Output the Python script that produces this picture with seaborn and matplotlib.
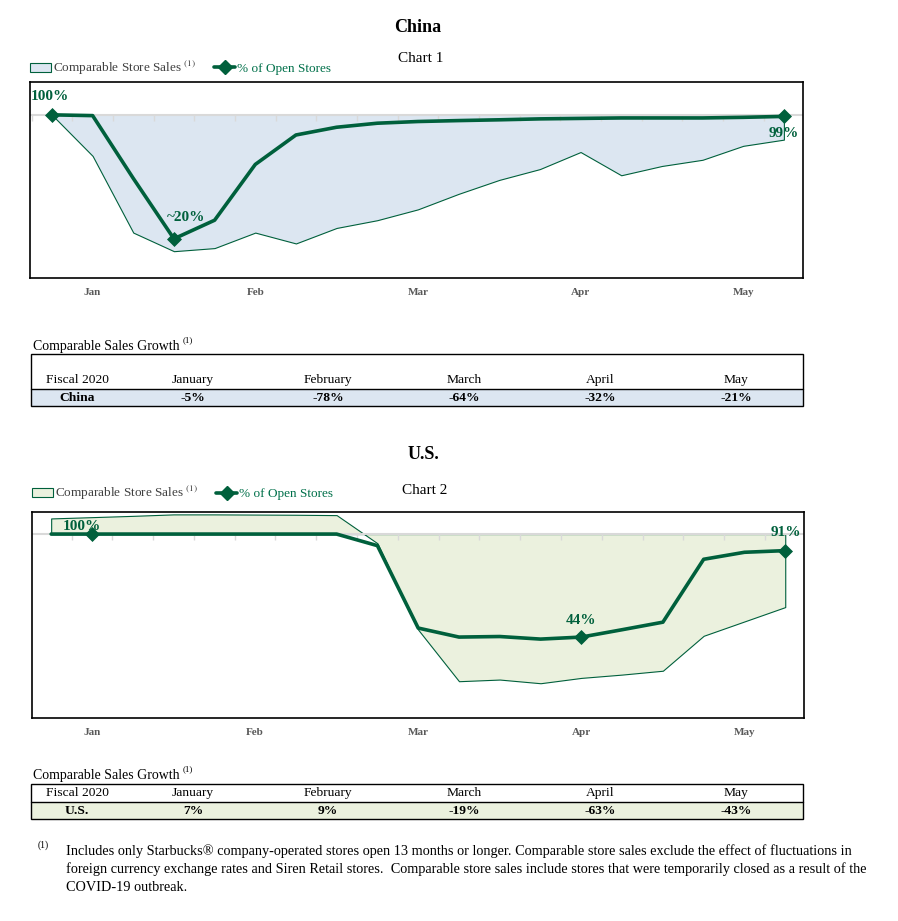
import numpy as np
import pandas as pd
import matplotlib
matplotlib.use('Agg')
import matplotlib.pyplot as plt
from matplotlib.lines import Line2D
from matplotlib.patches import Rectangle
import seaborn as sns

# weekly points, Jan .. May (fiscal 2020)
weeks = list(range(19))
month_ticks = [1, 5, 9, 13, 17]
month_labels = ['Jan', 'Feb', 'Mar', 'Apr', 'May']

china_open = [100, 99.5, 59, 20, 32, 68, 87, 92, 94.6, 95.7, 96.3, 96.8, 97.4, 97.7, 98, 98, 98, 98.4, 99]
china_comp = [0, -26.5, -76, -88, -86, -76, -83, -73, -68, -61, -51, -42, -35, -24, -39, -33, -29, -20, -16]
china_marks = [0, 3, 18]
china_mark_text = ['100%', '~20%', '99%']

us_open = [100, 100, 100, 100, 100, 100, 100, 100, 93.7, 48.9, 44.0, 44.3, 42.9, 44, 48, 52.1, 86.3, 90.1, 91]
us_comp = [8.5, 9.2, 9.9, 10.7, 10.7, 10.6, 10.5, 10.3, -5, -52, -80, -79.1, -81.1, -78.2, -76.4, -74.3, -55.3, -47.5, -39.7]
us_marks = [1, 13, 18]
us_mark_text = ['100%', '44%', '91%']

table_months = ['January', 'February', 'March', 'April', 'May']
china_growth = ['-5%', '-78%', '-64%', '-32%', '-21%']
us_growth = ['7%', '9%', '-19%', '-63%', '-43%']

GREEN = '#00603C'
LEG_GREEN = '#00704A'
BLUE_FILL = '#DCE6F1'
OLIVE_FILL = '#EBF1DE'
GRAY = '#595959'

sns.set_theme(style='white')
plt.rcParams['font.family'] = ['Liberation Serif', 'DejaVu Serif']
plt.rcParams['mathtext.fontset'] = 'stix'
plt.rcParams['text.color'] = 'black'

W, H = 898, 921
fig = plt.figure(figsize=(W / 100, H / 100), dpi=100)


def px_rect(l, t, r, b):
    return [l / W, 1 - b / H, (r - l) / W, (b - t) / H]


# overlay in pixel coordinates for titles, tables and footnote
ov = fig.add_axes([0, 0, 1, 1])
ov.set_xlim(0, W)
ov.set_ylim(H, 0)
ov.axis('off')


def draw_chart(rect, xlim, open_lim, open_vals, comp_vals, fill, marks, mark_text, offsets, leg_y):
    ax = fig.add_axes(px_rect(*rect))
    ax.set_xlim(*xlim)
    ax.set_ylim(open_lim[0] - 100, open_lim[1] - 100)
    area = ax.fill_between(weeks, 0, comp_vals, facecolor=fill, edgecolor=GREEN, linewidth=0.8, zorder=1)
    ax.axhline(0, color='#D9D9D9', lw=1.5, zorder=2)
    ax.plot(np.arange(-0.5, 19, 1), np.zeros(20), ls='none', marker=3, ms=4, mew=1, color='#D9D9D9', zorder=2)
    ax.set_yticks([])
    ax.set_xticks(month_ticks)
    ax.set_xticklabels(month_labels, fontsize=8, fontweight='bold', color=GRAY)
    ax.tick_params(axis='x', length=0, pad=7)
    for s in ax.spines.values():
        s.set_visible(True)
        s.set_color('black')
        s.set_linewidth(1.2)

    ax2 = ax.twinx()
    ax2.set_ylim(*open_lim)
    df = pd.DataFrame({'week': weeks, 'open': open_vals})
    sns.lineplot(data=df, x='week', y='open', ax=ax2, color=GREEN, lw=2.6, zorder=4)
    sns.scatterplot(data=df.iloc[marks], x='week', y='open', ax=ax2, color=GREEN, marker='D', s=50,
                    edgecolor=GREEN, zorder=5)
    for i, t, off in zip(marks, mark_text, offsets):
        ax2.annotate(t, (weeks[i], open_vals[i]), xytext=off, textcoords='offset pixels',
                     ha='center', va='center', fontsize=11, fontweight='bold', color=GREEN)
    ax2.set_yticks([])
    ax2.set_ylabel('')
    ax2.set_xlabel('')
    ax.set_xlabel('')
    for s in ax2.spines.values():
        s.set_visible(False)

    handles = [area, Line2D([], [], color=GREEN, lw=2.6, marker='D', ms=7)]
    leg = ax2.legend(handles, ['Comparable Store Sales $^{(1)}$', '% of Open Stores'],
                     loc='lower left', bbox_to_anchor=(-0.004, leg_y), ncol=2, frameon=False,
                     fontsize=9.5, handlelength=1.6, handleheight=0.7, handletextpad=0.15,
                     columnspacing=1.4, borderpad=0.1, borderaxespad=0.1)
    leg.get_texts()[0].set_color('#404040')
    leg.get_texts()[1].set_color(LEG_GREEN)
    return ax


draw_chart((30, 82, 803, 278), (-0.54, 18.47), (-5.3, 121.2), china_open, china_comp, BLUE_FILL,
           china_marks, china_mark_text, [(-2, 18), (12, 21), (0, -17)], 1.012)
draw_chart((32, 512, 804, 718), (-0.47, 18.46), (0, 112), us_open, us_comp, OLIVE_FILL,
           us_marks, us_mark_text, [(-10, 8), (0, 17), (1, 18)], 1.035)

# titles
ov.text(418, 27, 'China', ha='center', va='center', fontsize=13, fontweight='bold')
ov.text(421, 58, 'Chart 1', ha='center', va='center', fontsize=11)
ov.text(423, 454, 'U.S.', ha='center', va='center', fontsize=13, fontweight='bold')
ov.text(425, 490, 'Chart 2', ha='center', va='center', fontsize=11)

# tables
col_x = [77, 193, 328, 464, 600, 736]


def draw_table(top, sep, bottom, title_y, head_y, row_y, fill, name, values):
    ov.text(33, title_y, 'Comparable Sales Growth', ha='left', va='center', fontsize=10)
    ov.text(183, title_y - 6, '(1)', ha='left', va='center', fontsize=6.5)
    ov.add_patch(Rectangle((31, sep), 772, bottom - sep, facecolor=fill, edgecolor='none'))
    ov.add_patch(Rectangle((31, top), 772, bottom - top, facecolor='none', edgecolor='black', lw=1))
    ov.plot([31, 803], [sep, sep], color='black', lw=1)
    heads = ['Fiscal 2020'] + table_months
    cells = [name] + values
    for x, h, c in zip(col_x, heads, cells):
        ov.text(x, head_y, h, ha='center', va='center', fontsize=9.7)
        ov.text(x, row_y, c, ha='center', va='center', fontsize=9.7, fontweight='bold')


draw_table(354, 388.5, 406, 346.5, 380, 398, BLUE_FILL, 'China', china_growth)
draw_table(784, 802, 819, 775, 793, 811, OLIVE_FILL, 'U.S.', us_growth)

# footnote
ov.text(38, 845, '(1)', ha='left', va='center', fontsize=7)
foot = ['Includes only Starbucks\u00ae company-operated stores open 13 months or longer. Comparable store sales exclude the effect of fluctuations in',
        'foreign currency exchange rates and Siren Retail stores.  Comparable store sales include stores that were temporarily closed as a result of the',
        'COVID-19 outbreak.']
for i, line in enumerate(foot):
    ov.text(66, 851 + 18 * i, line, ha='left', va='center', fontsize=10.3)

fig.savefig('out.png', dpi=100)
